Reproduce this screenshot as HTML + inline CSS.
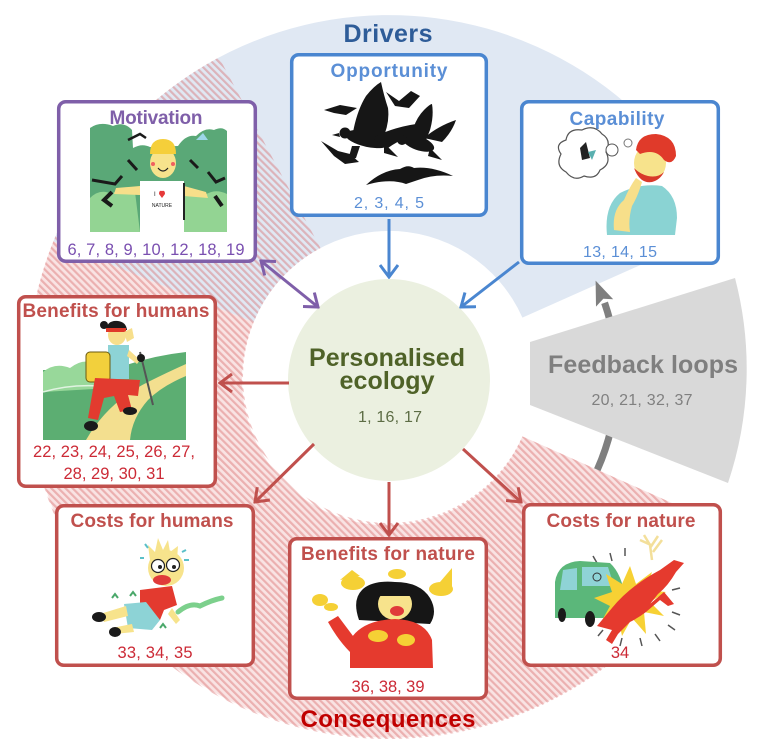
<!DOCTYPE html>
<html><head><meta charset="utf-8">
<style>
html,body{margin:0;padding:0;background:#fff;}
svg{display:block;}
text{font-family:"Liberation Sans",Arial,sans-serif;}
</style></head>
<body>
<svg width="763" height="755" viewBox="0 0 763 755" xmlns="http://www.w3.org/2000/svg">
<defs>
  <pattern id="hatch" patternUnits="userSpaceOnUse" width="5" height="5" patternTransform="rotate(-45)">
    <rect x="0" y="0" width="2.2" height="5" fill="rgba(214,92,92,0.38)"/>
  </pattern>
  <marker id="mb" viewBox="-14 -10 16 20" refX="0" refY="0" markerWidth="16" markerHeight="20" orient="auto-start-reverse" markerUnits="userSpaceOnUse">
    <path d="M-12,-9 L0,0 L-12,9" fill="none" stroke="#4a86d0" stroke-width="3"/>
  </marker>
  <marker id="mp" viewBox="-14 -10 16 20" refX="0" refY="0" markerWidth="16" markerHeight="20" orient="auto-start-reverse" markerUnits="userSpaceOnUse">
    <path d="M-12,-9 L0,0 L-12,9" fill="none" stroke="#7f5fa9" stroke-width="3"/>
  </marker>
  <marker id="mr" viewBox="-14 -10 16 20" refX="0" refY="0" markerWidth="16" markerHeight="20" orient="auto-start-reverse" markerUnits="userSpaceOnUse">
    <path d="M-12,-9 L0,0 L-12,9" fill="none" stroke="#c0504d" stroke-width="3"/>
  </marker>
</defs>

<!-- Blue drivers sector -->
<path d="M719.7 229.8 A362 362 0 0 0 53.4 241.4 L253.6 322.3 A146 146 0 0 1 522.4 317.6 Z" fill="#e0e8f3"/>
<!-- Red base (non-overlap) -->
<path d="M53.4 241.4 A362 362 0 0 0 719.7 524.2 L522.4 436.4 A146 146 0 0 1 253.6 322.3 Z" fill="#f9e3e3"/>
<!-- Red hatch over whole consequences sector -->
<path d="M219.0 57.4 A362 362 0 1 0 719.7 524.2 L522.4 436.4 A146 146 0 1 1 320.5 248.1 Z" fill="url(#hatch)"/>

<!-- Feedback arc arrow -->
<path d="M597.3 469.7 A228 228 0 0 0 604.6 302.8" fill="none" stroke="#7f7f7f" stroke-width="7"/>
<polygon points="595.6,280.6 613.2,299.2 603.3,298.8 596.0,306.6" fill="#7f7f7f"/>
<!-- Feedback grey sector -->
<path d="M530 342 L735 278 A358 358 0 0 1 728 483 L530 405 Z" fill="#d9d9d9"/>
<text x="643" y="373" font-size="25" font-weight="bold" fill="#7f7f7f" text-anchor="middle" textLength="190">Feedback loops</text>
<text x="642" y="405" font-size="16" fill="#808080" text-anchor="middle" textLength="101">20, 21, 32, 37</text>

<!-- Central circle -->
<circle cx="389" cy="380" r="101" fill="#ebf0e0"/>
<text x="387" y="366" font-size="25" font-weight="bold" fill="#4f6228" text-anchor="middle" textLength="156">Personalised</text>
<text x="387" y="389" font-size="25" font-weight="bold" fill="#4f6228" text-anchor="middle" textLength="95">ecology</text>
<text x="390" y="422" font-size="16" fill="#5d6d45" text-anchor="middle" textLength="64">1, 16, 17</text>

<!-- Arrows -->
<line x1="389" y1="219" x2="389" y2="277" stroke="#4a86d0" stroke-width="3" marker-end="url(#mb)"/>
<line x1="519" y1="262" x2="461" y2="307" stroke="#4a86d0" stroke-width="3" marker-end="url(#mb)"/>
<line x1="261" y1="261" x2="318" y2="307" stroke="#7f5fa9" stroke-width="3" marker-start="url(#mp)" marker-end="url(#mp)"/>
<line x1="289" y1="383" x2="220" y2="383" stroke="#c0504d" stroke-width="3" marker-end="url(#mr)"/>
<line x1="314" y1="444" x2="255" y2="502" stroke="#c0504d" stroke-width="3" marker-end="url(#mr)"/>
<line x1="389" y1="482" x2="389" y2="535" stroke="#c0504d" stroke-width="3" marker-end="url(#mr)"/>
<line x1="463" y1="449" x2="521" y2="502" stroke="#c0504d" stroke-width="3" marker-end="url(#mr)"/>

<!-- Titles -->
<text x="388" y="42" font-size="25" font-weight="bold" fill="#2e5c98" text-anchor="middle" textLength="89">Drivers</text>
<text x="388" y="727" font-size="24" font-weight="bold" fill="#c00000" text-anchor="middle" textLength="175">Consequences</text>

<!-- Boxes -->
<g fill="#fff" stroke-width="3.5">
  <rect x="291.7" y="54.7" width="194.6" height="160.6" rx="7" stroke="#4a86d0"/>
  <rect x="521.7" y="101.7" width="196.6" height="161.6" rx="7" stroke="#4a86d0"/>
  <rect x="58.7" y="101.7" width="196.6" height="159.6" rx="7" stroke="#7f5fa9"/>
  <rect x="18.7" y="296.7" width="196.6" height="189.6" rx="7" stroke="#c0504d"/>
  <rect x="56.7" y="505.7" width="196.6" height="159.6" rx="7" stroke="#c0504d"/>
  <rect x="289.7" y="538.7" width="196.6" height="159.6" rx="7" stroke="#c0504d"/>
  <rect x="523.7" y="504.7" width="196.6" height="160.6" rx="7" stroke="#c0504d"/>
</g>

<!-- Box texts -->
<text x="389" y="77" font-size="19" font-weight="bold" fill="#5b8fd6" text-anchor="middle" textLength="117">Opportunity</text>
<text x="389" y="208" font-size="16" fill="#5b8fd6" text-anchor="middle" textLength="70">2, 3, 4, 5</text>
<text x="617" y="125" font-size="19" font-weight="bold" fill="#5b8fd6" text-anchor="middle" textLength="95">Capability</text>
<text x="620" y="257" font-size="16" fill="#5b8fd6" text-anchor="middle" textLength="74">13, 14, 15</text>
<text x="156" y="124" font-size="19" font-weight="bold" fill="#7f5fa9" text-anchor="middle" textLength="93">Motivation</text>
<text x="156" y="255" font-size="16.5" fill="#7a4fb0" text-anchor="middle" textLength="177">6, 7, 8, 9, 10, 12, 18, 19</text>
<text x="116" y="317" font-size="19" font-weight="bold" fill="#c0504d" text-anchor="middle" textLength="187">Benefits for humans</text>
<text x="114" y="457" font-size="16.5" fill="#cc2a36" text-anchor="middle" textLength="162">22, 23, 24, 25, 26, 27,</text>
<text x="114" y="479" font-size="16.5" fill="#cc2a36" text-anchor="middle" textLength="101">28, 29, 30, 31</text>
<text x="152" y="527" font-size="19" font-weight="bold" fill="#c0504d" text-anchor="middle" textLength="163">Costs for humans</text>
<text x="155" y="658" font-size="16.5" fill="#cc2a36" text-anchor="middle" textLength="75">33, 34, 35</text>
<text x="388" y="560" font-size="19" font-weight="bold" fill="#c0504d" text-anchor="middle" textLength="174">Benefits for nature</text>
<text x="388" y="692" font-size="16.5" fill="#cc2a36" text-anchor="middle" textLength="73">36, 38, 39</text>
<text x="621" y="527" font-size="19" font-weight="bold" fill="#c0504d" text-anchor="middle" textLength="149">Costs for nature</text>
<text x="620" y="658" font-size="16.5" fill="#cc2a36" text-anchor="middle">34</text>

<!-- ===== Motivation illustration ===== -->
<g>
  <path d="M90 128 Q100 121 113 126 Q124 121 132 130 L133 148 Q142 143 150 147 L178 146 Q186 134 196 136 Q205 127 214 130 Q222 126 227 131 L227 232 L90 232 Z" fill="#5aa877"/>
  <path d="M90 198 Q100 188 112 194 Q120 186 135 192 L140 232 L90 232 Z" fill="#93d493"/>
  <path d="M182 196 Q195 188 205 195 Q215 188 227 194 L227 232 L182 232 Z" fill="#93d493"/>
  <path d="M92 180 L115 184 L122 176 M208 172 L216 182 L225 178 M128 160 L137 170 M190 160 L198 168" stroke="#1a1a1a" stroke-width="3" fill="none"/>
  <path d="M112 192 L104 200 L112 206 M215 196 L222 206" stroke="#1a1a1a" stroke-width="4" fill="none"/>
  <path d="M128 140 L140 134 L146 138" stroke="#1a1a1a" stroke-width="2.5" fill="none"/>
  <path d="M196 140 L203 133 L208 140 Z" fill="#9ed6e8"/>
  <rect x="140" y="181" width="44" height="51" fill="#fff"/>
  <path d="M140 186 L116 188 L114 194 L140 195 Z M184 186 L206 192 L208 198 L184 196 Z" fill="#f7df8a"/>
  <ellipse cx="163" cy="163" rx="13" ry="15" fill="#f7e38c"/>
  <path d="M150 154 Q150 139 163 139 Q176 139 176 154 Z" fill="#f5cf3a"/>
  <path d="M158 168 Q163 174 168 168" stroke="#222" stroke-width="1.2" fill="none"/>
  <circle cx="153" cy="164" r="2" fill="#f06060"/><circle cx="173" cy="164" r="2" fill="#f06060"/>
  <path d="M159 194 Q159 190 162 191 Q165 190 165 194 L162 198 Z" fill="#e63a3a"/>
  <text x="154" y="196" font-size="6" fill="#222">I</text>
  <text x="162" y="207" font-size="5" fill="#222" text-anchor="middle">NATURE</text>
  <line x1="184" y1="183" x2="184" y2="220" stroke="#222" stroke-width="2"/>
</g>

<!-- ===== Opportunity crows ===== -->
<g fill="#161616">
  <ellipse cx="368" cy="139" rx="23" ry="8" transform="rotate(12 368 139)"/>
  <circle cx="345" cy="133" r="5.5"/>
  <polygon points="339,133 332,135 340,137"/>
  <path d="M352 138 Q356 112 366 96 Q374 86 381 82 Q384 96 388 108 Q390 124 382 140 Z"/>
  <path d="M372 138 Q395 126 424 123 Q420 132 410 136 Q396 142 388 148 Z"/>
  <polygon points="384,143 398,157 384,153"/>
  <polygon points="352,146 348,160 356,158 360,146"/>
  <ellipse cx="418" cy="143" rx="17" ry="7" transform="rotate(20 418 143)"/>
  <circle cx="402" cy="140" r="5"/>
  <path d="M410 140 Q414 120 424 110 Q430 104 432 104 Q434 116 430 130 L426 140 Z"/>
  <path d="M424 138 Q438 126 456 120 Q452 132 442 142 Z"/>
  <polygon points="430,148 442,160 428,156"/>
  <path d="M366 185 Q382 170 400 169 Q408 164 414 168 Q432 166 453 176 Q434 174 418 180 L406 184 Q390 178 366 185 Z"/>
  <polygon points="386,92 399,101 411,91 420,96 409,108 395,106"/>
  <polygon points="324,110 340,105 357,108 346,115 334,113"/>
  <polygon points="321,141 338,151 350,154 359,162 345,164 334,156"/>
</g>

<!-- ===== Capability ===== -->
<g>
  <path d="M566 140 Q568 128 582 130 Q594 124 602 134 Q612 140 606 152 Q612 164 600 170 Q596 180 584 176 Q574 182 566 172 Q555 166 561 154 Q554 144 566 140 Z" fill="#fff" stroke="#555" stroke-width="1.2"/>
  <path d="M580 148 L586 142 L590 158 L582 160 Z" fill="#222"/>
  <path d="M588 152 L596 150 L592 160 Z" fill="#5ab0b0"/>
  <circle cx="612" cy="150" r="6" fill="#fff" stroke="#555" stroke-width="1"/>
  <circle cx="628" cy="143" r="4" fill="#fff" stroke="#777" stroke-width="1"/>
  <path d="M607 235 Q604 206 620 193 Q640 183 662 186 Q677 196 677 218 L675 235 Z" fill="#8ad3d3"/>
  <ellipse cx="650" cy="163" rx="16" ry="18" fill="#f7e38c"/>
  <path d="M636 150 Q638 134 656 134 Q676 136 676 156 Q672 166 664 160 Q656 148 640 154 Z" fill="#e03a2a"/>
  <path d="M634 168 Q640 184 652 182 Q660 180 664 172 Q658 178 648 176 Q640 174 634 168 Z" fill="#d8392a"/>
  <path d="M614 230 Q612 210 624 200 Q630 186 636 178 L642 182 Q638 196 632 206 Q628 220 630 232 Z" fill="#f7df8a"/>
</g>

<!-- ===== Benefits for humans ===== -->
<g>
  <rect x="43" y="370" width="143" height="70" fill="#5cae72"/>
  <path d="M43 372 Q55 362 70 368 Q85 356 100 366 L118 375 L110 388 L43 392 Z" fill="#98d89a"/>
  <path d="M118 368 Q150 356 186 352 L186 372 L118 380 Z" fill="#5cae72"/>
  <path d="M86 440 Q108 402 148 382 Q168 372 186 364 L186 376 Q162 386 148 400 Q132 418 130 440 Z" fill="#f3df8f"/>
  <path d="M43 392 Q70 384 100 386" stroke="#fff" stroke-width="1.5" fill="none" opacity="0.7"/>
  <ellipse cx="117" cy="335" rx="9" ry="10" fill="#f7df8c"/>
  <path d="M106 332 Q106 320 118 321 Q126 322 127 330 Z" fill="#1a1a1a"/>
  <circle cx="104" cy="325" r="4" fill="#1a1a1a"/>
  <rect x="106" y="328" width="20" height="4" fill="#e03a2a"/>
  <path d="M124 332 L132 328 L134 338 L127 342 Z" fill="#f7df8c"/>
  <rect x="108" y="345" width="21" height="34" fill="#8dd3d6"/>
  <path d="M129 350 L140 360 L137 364 L127 356 Z" fill="#f7df8c"/>
  <rect x="86" y="352" width="24" height="30" rx="4" fill="#f2d03c" stroke="#6a5a10" stroke-width="1"/>
  <path d="M95 378 L140 380 L138 396 L128 395 L132 410 L120 412 L114 396 L104 398 L98 420 L88 418 Z" fill="#e23b2f"/>
  <ellipse cx="91" cy="426" rx="7" ry="5" fill="#1a1a1a"/>
  <ellipse cx="130" cy="411" rx="7" ry="4" fill="#1a1a1a"/>
  <line x1="140" y1="352" x2="153" y2="405" stroke="#555" stroke-width="2"/>
  <circle cx="141" cy="358" r="4" fill="#1a1a1a"/>
</g>

<!-- ===== Costs for humans ===== -->
<g>
  <path d="M150 560 L148 545 L155 552 L158 538 L163 550 L168 540 L170 552 L178 546 L177 560 Z" fill="#f7e38c"/>
  <ellipse cx="166" cy="568" rx="18" ry="18" fill="#f7e38c"/>
  <circle cx="158" cy="566" r="6.5" fill="#fff" stroke="#222" stroke-width="1.2"/>
  <circle cx="173" cy="565" r="6.5" fill="#fff" stroke="#222" stroke-width="1.2"/>
  <circle cx="160" cy="567" r="2" fill="#222"/><circle cx="174" cy="567" r="2" fill="#222"/>
  <ellipse cx="162" cy="580" rx="9" ry="5" fill="#e03a3a"/>
  <path d="M140 590 L172 586 L177 605 L164 610 L160 620 L140 612 Z" fill="#e33a2f"/>
  <path d="M124 604 L146 602 L160 620 L152 630 L128 628 Z" fill="#8dd3d6"/>
  <path d="M100 614 L126 606 L128 616 L104 622 Z M112 628 L132 624 L134 632 L114 634 Z" fill="#f7e38c"/>
  <ellipse cx="99" cy="617" rx="7" ry="5" fill="#1a1a1a"/>
  <ellipse cx="115" cy="632" rx="6" ry="5" fill="#1a1a1a"/>
  <path d="M172 608 L180 620 L176 624 L168 614 Z" fill="#f7e38c"/>
  <path d="M178 612 Q190 602 200 606 Q212 600 222 598" stroke="#7cd08c" stroke-width="5" fill="none" stroke-linecap="round"/>
  <path d="M112 598 l3 -4 l3 4 M130 596 l3 -4 l3 4 M160 628 l3 -4 l3 4" stroke="#4aa86a" stroke-width="2" fill="none"/>
  <path d="M148 548 l-3 -4 M182 552 l4 -2 M184 560 l5 0 M144 558 l-4 0" stroke="#5bc0c8" stroke-width="2"/>
</g>

<!-- ===== Benefits for nature ===== -->
<g>
  <path d="M359 620 Q352 600 362 590 Q372 580 395 582 Q420 582 430 598 Q438 612 430 624 Z" fill="#161616"/>
  <ellipse cx="395" cy="604" rx="17" ry="16" fill="#f7e38c"/>
  <path d="M378 596 Q384 586 396 586 Q410 586 414 596 Z" fill="#161616"/>
  <ellipse cx="397" cy="611" rx="7" ry="5" fill="#e03a3a"/>
  <path d="M350 640 Q362 620 395 619 Q425 620 432 640 L433 668 L350 668 Z" fill="#e53a2e"/>
  <path d="M328 622 L338 616 L356 640 L350 652 Q338 640 328 622 Z" fill="#e53a2e"/>
  <g fill="#f5d035">
    <ellipse cx="320" cy="600" rx="8" ry="6"/>
    <ellipse cx="331" cy="607" rx="7" ry="4"/>
    <ellipse cx="353" cy="583" rx="12" ry="7"/>
    <path d="M340 580 L352 570 L360 576 Z"/>
    <ellipse cx="397" cy="574" rx="9" ry="5"/>
    <ellipse cx="441" cy="589" rx="12" ry="7"/>
    <path d="M440 582 L452 568 L452 590 Z"/>
    <ellipse cx="378" cy="636" rx="10" ry="6"/>
    <ellipse cx="406" cy="640" rx="9" ry="6"/>
  </g>
</g>

<!-- ===== Costs for nature ===== -->
<g>
  <g stroke="#555" stroke-width="1.5">
    <line x1="610" y1="553" x2="612" y2="561"/><line x1="625" y1="548" x2="625" y2="556"/>
    <line x1="593" y1="556" x2="597" y2="563"/><line x1="672" y1="590" x2="680" y2="588"/>
    <line x1="672" y1="612" x2="680" y2="615"/><line x1="668" y1="625" x2="675" y2="630"/>
    <line x1="655" y1="634" x2="660" y2="641"/><line x1="640" y1="638" x2="642" y2="646"/>
    <line x1="622" y1="638" x2="620" y2="646"/><line x1="603" y1="630" x2="598" y2="636"/>
  </g>
  <path d="M555 618 L555 582 Q558 562 580 561 L610 563 Q622 574 625 598 L625 618 Z" fill="#5bb77a"/>
  <path d="M582 567 L608 567 L614 586 L582 586 Z" fill="#8fd3d6"/>
  <path d="M563 570 L577 568 L577 590 L560 590 Z" fill="#8fd3d6"/>
  <circle cx="597" cy="577" r="4" fill="none" stroke="#333" stroke-width="1"/>
  <ellipse cx="562" cy="615" rx="4" ry="7" fill="#1a1a1a"/>
  <ellipse cx="590" cy="619" rx="5" ry="8" fill="#1a1a1a"/>
  <polygon fill="#f7d134" points="630,566 636,584 652,572 646,590 666,592 650,602 664,616 644,612 646,634 632,618 622,636 618,616 600,624 610,606 594,598 612,592 606,574 622,584"/>
  <path d="M597 626 L612 608 Q630 586 660 570 L674 560 L684 563 L676 572 Q668 586 658 594 L650 604 L664 592 L674 604 L668 606 L660 600 L646 612 Q638 618 630 622 L618 634 L612 644 L606 640 L612 630 Z" fill="#e53a2e"/>
  <path d="M652 560 L650 545 L644 535 M650 548 L658 536 M653 552 L662 540 M651 545 L640 540" stroke="#f3df9a" stroke-width="2.5" fill="none"/>
</g>

</svg>
</body></html>
